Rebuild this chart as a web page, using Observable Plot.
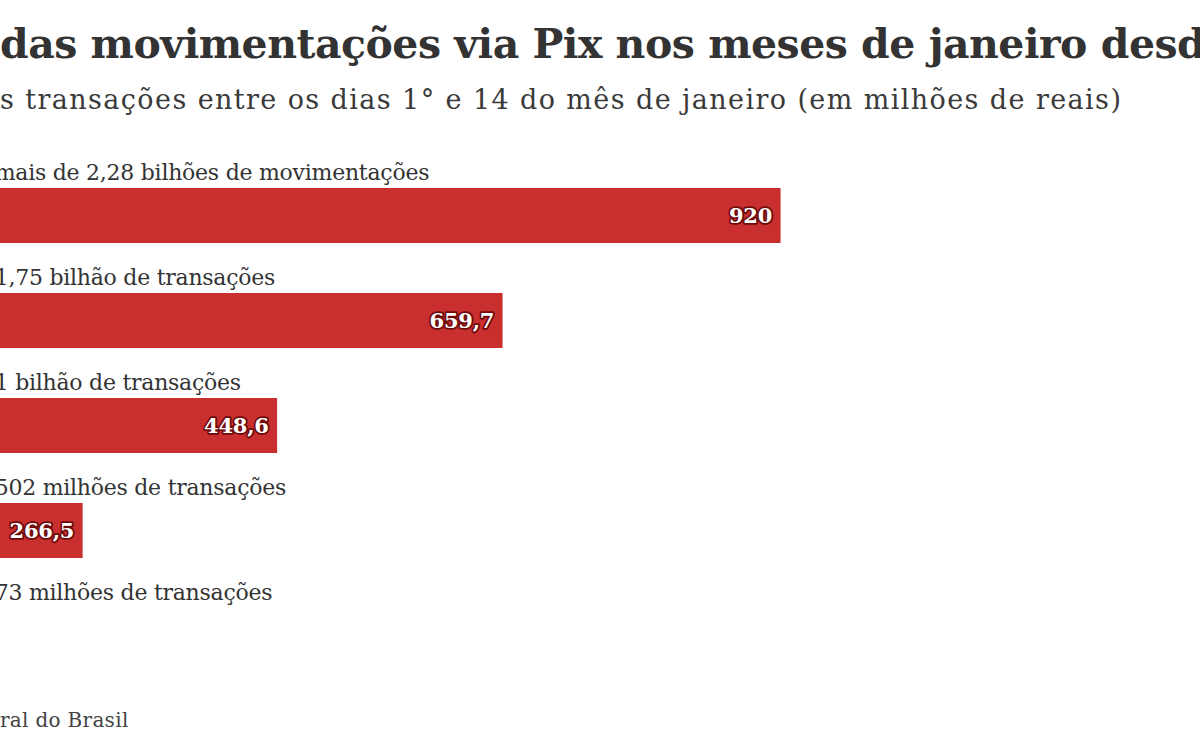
<!DOCTYPE html>
<html>
<head>
<meta charset="utf-8">
<script src="https://cdn.jsdelivr.net/npm/d3@7"></script>
<script src="https://cdn.jsdelivr.net/npm/@observablehq/plot@0.6"></script>
<style>
  html, body { margin:0; padding:0; width:1200px; height:750px; overflow:hidden; background:#fff; font-family:"DejaVu Serif", serif; }
  .line { position:absolute; left:0; white-space:nowrap; }
  .pre { position:absolute; right:100%; top:0; white-space:pre; }
  #title { top:24px; font-size:41px; line-height:41px; font-weight:bold; color:#333; letter-spacing:-0.5px; }
  #subtitle { top:86px; font-size:27px; line-height:27px; color:#3a3a3a; letter-spacing:1.4px; }
  #source { top:710px; font-size:20px; line-height:20px; color:#444; letter-spacing:0.3px; }
  #chart { position:absolute; left:-202px; top:138px; }
</style>
</head>
<body>
<div id="title" class="line"><span class="pre">Volume </span>das movimentações via Pix nos meses de janeiro desde 2021</div>
<div id="subtitle" class="line"><span class="pre">Valor da</span>s transações entre os dias 1° e 14 do mês de janeiro (em milhões de reais)</div>
<div id="chart"></div>
<div id="source" class="line"><span class="pre">Fonte: Banco Cent</span>ral do Brasil</div>
<script>
const years = ["2025", "2024", "2023", "2022", "2021"];
const values = [920, 659.7, 448.6, 266.5, 45];
const valueLabels = ["920", "659,7", "448,6", "266,5", "45"];
const rowLabels = [
  "Janeiro de 2025: mais de 2,28 bilhões de movimentações",
  "Janeiro de 2024: 1,75 bilhão de transações",
  "Janeiro de 2023: 1 bilhão de transações",
  "Janeiro de 2022: 502 milhões de transações",
  "Janeiro de 2021: 73 milhões de transações"
];

const data = years.map((y, i) => ({year: y, value: values[i], vlabel: valueLabels[i], label: rowLabels[i]}));

const chart = Plot.plot({
  width: 1068,
  height: 525,
  marginTop: 0, marginBottom: 0, marginLeft: 0, marginRight: 0,
  style: {fontFamily: "DejaVu Serif", background: "transparent", letterSpacing: "-0.25px"},
  x: {domain: [0, 1000], axis: null},
  y: {domain: years, axis: null, padding: 0},
  marks: [
    Plot.barX(data, {x: "value", y: "year", fill: "#c92f2f", insetTop: 50}),
    Plot.text(data, {x: 0, y: "year", text: "label", textAnchor: "start", dx: 9, dy: -18, fontSize: 22, fill: "#333", fontFamily: "DejaVu Serif"}),
    Plot.text(data, {x: "value", y: "year", text: "vlabel", textAnchor: "end", dx: -9, dy: 25, fontSize: 21, fontWeight: "bold", fill: "white", stroke: "#6e0a0a", strokeWidth: 3.5, fontFamily: "DejaVu Serif"})
  ]
});
document.getElementById("chart").appendChild(chart);
</script>
</body>
</html>
